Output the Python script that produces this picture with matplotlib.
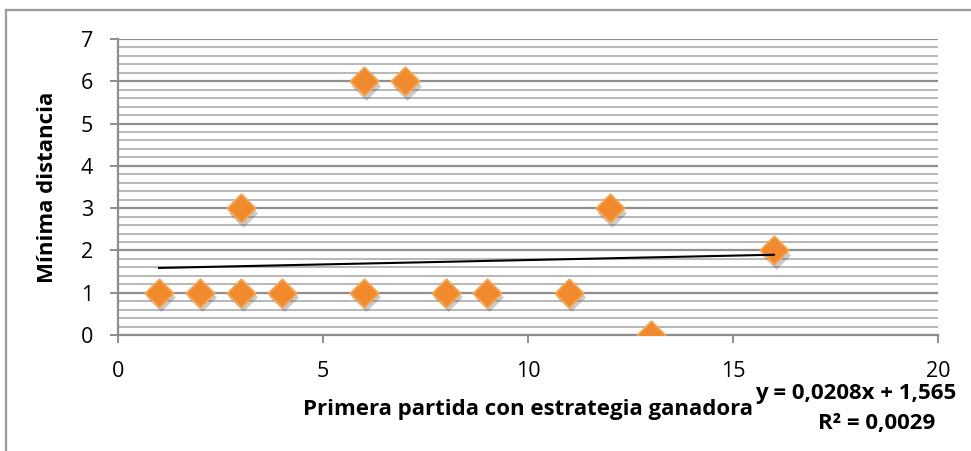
import matplotlib.pyplot as plt
import numpy as np
from matplotlib.ticker import MultipleLocator

plt.rcParams['font.family'] = ['Open Sans', 'DejaVu Sans']

# datos
partida = [1, 2, 3, 4, 6, 8, 9, 11, 3, 6, 7, 12, 13, 16]
distancia = [1, 1, 1, 1, 1, 1, 1, 1, 3, 6, 6, 3, 0, 2]
pendiente = 0.0208
intercepto = 1.565
r2 = 0.0029

fig = plt.figure(figsize=(9.71, 4.51), dpi=100)
ax = fig.add_axes([118 / 971, 1 - 335 / 451, 820 / 971, 296 / 451])

ax.set_xlim(0, 20)
ax.set_ylim(0, 7)
ax.xaxis.set_major_locator(MultipleLocator(5))
ax.yaxis.set_major_locator(MultipleLocator(1))
ax.yaxis.set_minor_locator(MultipleLocator(0.2))

ax.grid(axis='y', which='minor', color='#b8b8b8', linewidth=1.4)
ax.grid(axis='y', which='major', color='#8e8e8e', linewidth=1.6)
ax.set_axisbelow(True)

for s in ['top', 'right']:
    ax.spines[s].set_visible(False)
for s in ['left', 'bottom']:
    ax.spines[s].set_color('#8e8e8e')
    ax.spines[s].set_linewidth(1.6)

ax.tick_params(axis='both', which='major', length=6, width=1.4, color='#8e8e8e',
               labelsize=15.5, labelcolor='black')
ax.tick_params(axis='y', which='minor', length=0)
ax.tick_params(axis='x', pad=13)
ax.tick_params(axis='y', pad=12)

# sombra y marcadores
ax.scatter(np.array(partida) + 0.04, np.array(distancia) - 0.11, marker='D', s=220,
           color='#555555', alpha=0.3, linewidths=0, zorder=3)
ax.scatter(partida, distancia, marker='D', s=210, color='#f08a2c',
           edgecolors='#f7a550', linewidths=1.3, zorder=4)

# linea de tendencia
xt = np.array([min(partida), max(partida)])
ax.plot(xt, pendiente * xt + intercepto, color='black', linewidth=1.5, zorder=5)

ax.set_xlabel('Primera partida con estrategia ganadora', fontsize=16,
              fontweight='bold', va='center')
ax.set_ylabel('Mínima distancia', fontsize=16, fontweight='bold')
ax.xaxis.set_label_coords(0.5, -0.253)
ax.yaxis.set_label_coords(-0.073, 0.5)

fig.text(856 / 971, 1 - 394 / 451, 'y = 0,0208x + 1,565', fontsize=16,
         fontweight='bold', ha='center', va='center')
fig.text(877 / 971, 1 - 423 / 451, 'R² = 0,0029', fontsize=16,
         fontweight='bold', ha='center', va='center')

# borde del grafico
fig.add_artist(plt.Line2D([6 / 971, 6 / 971], [0, 1 - 9.5 / 451], color='#9a9a9a',
                          linewidth=1.6, transform=fig.transFigure))
fig.add_artist(plt.Line2D([6 / 971, 1], [1 - 9.5 / 451, 1 - 9.5 / 451], color='#9a9a9a',
                          linewidth=1.6, transform=fig.transFigure))

fig.savefig('out.png', dpi=100)
